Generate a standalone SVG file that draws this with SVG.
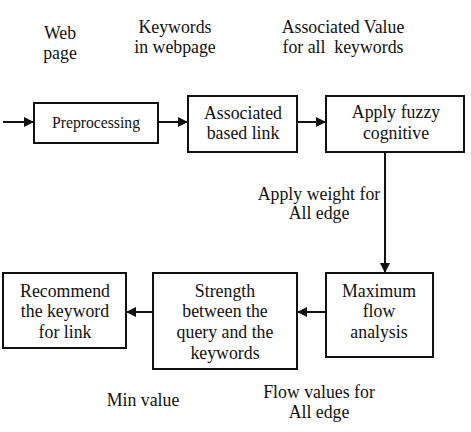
<svg xmlns="http://www.w3.org/2000/svg" width="471" height="432" viewBox="0 0 471 432">
<style>
text{font-size:17.8px;fill:#111;text-anchor:middle}
.box{fill:#fff;stroke:#111;stroke-width:2}
.ln{stroke:#111;stroke-width:2;fill:none;marker-end:url(#ah)}
</style>
<defs>
<marker id="ah" viewBox="0 0 10 10" refX="10" refY="5" markerWidth="10" markerHeight="10" markerUnits="userSpaceOnUse" orient="auto">
<path d="M0,0 L10,5 L0,10 z" fill="#111"/>
</marker>
</defs>
<rect width="471" height="432" fill="#fff"/>
<g font-family="'Liberation Serif', 'DejaVu Serif', serif">
<g id="labels">
<text x="60" y="39">Web</text>
<text x="60" y="59">page</text>
<text x="175" y="33">Keywords</text>
<text x="175" y="53">in webpage</text>
<text x="343" y="33" xml:space="preserve">Associated Value</text>
<text x="343" y="53" xml:space="preserve">for all  keywords</text>
<text x="319" y="200">Apply weight for</text>
<text x="319" y="219">All edge</text>
<text x="143" y="406">Min value</text>
<text x="319" y="398">Flow values for</text>
<text x="319" y="418">All edge</text>
</g>
<g id="connectors">
<line class="ln" x1="3" y1="122" x2="34" y2="122"/>
<line class="ln" x1="158" y1="122" x2="188" y2="122"/>
<line class="ln" x1="297" y1="122" x2="326" y2="122"/>
<line class="ln" x1="385" y1="152" x2="385" y2="273"/>
<line class="ln" x1="326" y1="312" x2="297" y2="312"/>
<line class="ln" x1="153" y1="312" x2="126" y2="312"/>
</g>
<g id="preprocessing">
<rect class="box" x="34" y="103" width="124" height="40"/>
<text x="96" y="128" style="font-size:15.7px">Preprocessing</text>
</g>
<g id="associated">
<rect class="box" x="188" y="96" width="109" height="56"/>
<text x="243" y="119">Associated</text>
<text x="243" y="139">based link</text>
</g>
<g id="fuzzy">
<rect class="box" x="326" y="96" width="138" height="56"/>
<text x="396" y="118">Apply fuzzy</text>
<text x="396" y="139">cognitive</text>
</g>
<g id="maximum">
<rect class="box" x="326" y="273" width="107" height="84"/>
<text x="379" y="297">Maximum</text>
<text x="379" y="317">flow</text>
<text x="379" y="338">analysis</text>
</g>
<g id="strength">
<rect class="box" x="153" y="273" width="144" height="96"/>
<text x="225" y="297">Strength</text>
<text x="225" y="317">between the</text>
<text x="225" y="338">query and the</text>
<text x="225" y="359">keywords</text>
</g>
<g id="recommend">
<rect class="box" x="3" y="273" width="123" height="75"/>
<text x="65" y="297">Recommend</text>
<text x="65" y="317">the keyword</text>
<text x="65" y="338">for link</text>
</g>
</g>
</svg>
